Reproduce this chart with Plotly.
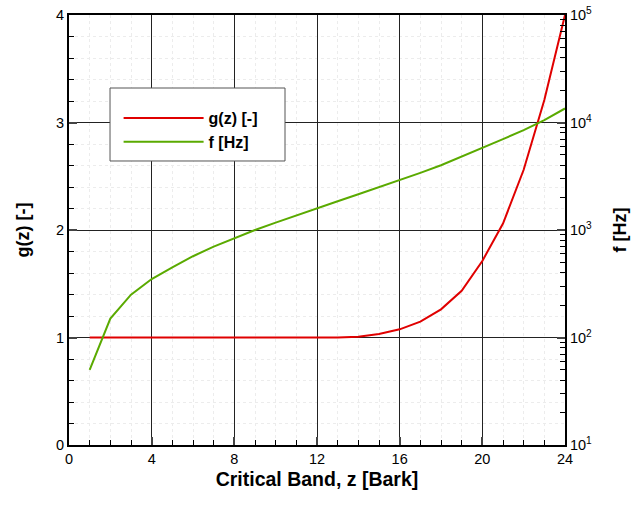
import plotly.graph_objects as go

z = list(range(1, 25))
g_vals = [1.0, 1.0, 1.0, 1.0, 1.0, 1.0, 1.0, 1.0, 1.0, 1.0, 1.0, 1.0,
          1.0, 1.008, 1.033, 1.076, 1.147, 1.262, 1.435, 1.712, 2.06, 2.56, 3.21, 4.0]
f_vals = [50, 150, 250, 350, 450, 570, 700, 840, 1000, 1170, 1370, 1600,
          1850, 2150, 2500, 2900, 3400, 4000, 4800, 5800, 7000, 8500, 10500, 13500]
x_ticks = [0, 4, 8, 12, 16, 20, 24]
g_ticks = [0, 1, 2, 3, 4]
f_ticks = [10, 100, 1000, 10000, 100000]
f_tick_text = ["10<sup>1</sup>", "10<sup>2</sup>", "10<sup>3</sup>", "10<sup>4</sup>", "10<sup>5</sup>"]

FONT = "Liberation Sans, Arial, Helvetica, sans-serif"

fig = go.Figure()
fig.add_trace(go.Scatter(x=z, y=g_vals, mode="lines", name="<b>g(z) [-]</b>",
                         line=dict(color="#e00000", width=2)))
fig.add_trace(go.Scatter(x=z, y=f_vals, mode="lines", name="<b>f [Hz]</b>", yaxis="y2",
                         line=dict(color="#5aaa00", width=2)))

f_minor = [m * 10 ** d for d in range(1, 5) for m in range(2, 10)]

# legend frame (white box covering the grid)
fig.add_shape(type="rect", xref="paper", yref="paper", x0=0.0827, x1=0.4355, y0=0.6605, y1=0.8302,
              fillcolor="white", line=dict(color="#555", width=1), layer="above")

fig.update_layout(
    width=638, height=505,
    margin=dict(l=69, r=73, t=15, b=60),
    paper_bgcolor="white", plot_bgcolor="white",
    font=dict(family=FONT, size=15, color="black"),
    showlegend=True,
    legend=dict(x=0.1, y=0.80, xanchor="left", yanchor="top",
                bgcolor="rgba(0,0,0,0)", borderwidth=0,
                font=dict(family=FONT, size=16, color="black"),
                itemwidth=80, tracegroupgap=0),
    xaxis=dict(range=[0, 24], tickvals=x_ticks, ticks="inside", ticklen=8, tickwidth=2,
               showline=True, linecolor="black", linewidth=2, mirror=True,
               showgrid=True, gridcolor="#222", gridwidth=1, zeroline=False,
               automargin=False, ticklabeloverflow="allow",
               minor=dict(dtick=1, ticks="inside", ticklen=5, tickwidth=1, tickcolor="black",
                          showgrid=True, gridcolor="#ececec", griddash="dot"),
               title=dict(text="<b>Critical Band, z [Bark]</b>", font=dict(size=19.5), standoff=6),
               tickfont=dict(size=14.5)),
    yaxis=dict(range=[0, 4], tickvals=g_ticks, ticks="inside", ticklen=8, tickwidth=2,
               showline=True, linecolor="black", linewidth=2,
               showgrid=True, gridcolor="#222", gridwidth=1, zeroline=False,
               automargin=False, ticklabeloverflow="allow",
               minor=dict(dtick=0.2, ticks="inside", ticklen=5, tickwidth=1, tickcolor="black",
                          showgrid=True, gridcolor="#ececec", griddash="dot"),
               title=dict(text="<b>g(z) [-]</b>", font=dict(size=18), standoff=22),
               tickfont=dict(size=14.5)),
    yaxis2=dict(type="log", range=[1, 5], overlaying="y", side="right",
                tickvals=f_ticks, ticktext=f_tick_text, ticks="inside", ticklen=8, tickwidth=2,
                showline=True, linecolor="black", linewidth=2,
                showgrid=False, zeroline=False, automargin=False, ticklabeloverflow="allow",
                minor=dict(tickvals=f_minor, ticks="inside", ticklen=5, tickwidth=1, tickcolor="black"),
                title=dict(text="<b>f [Hz]</b>", font=dict(size=18), standoff=22),
                tickfont=dict(size=14.5)),
)

fig.write_html("out.html", config={"displayModeBar": False},
               post_script="document.body.style.margin='0';")
